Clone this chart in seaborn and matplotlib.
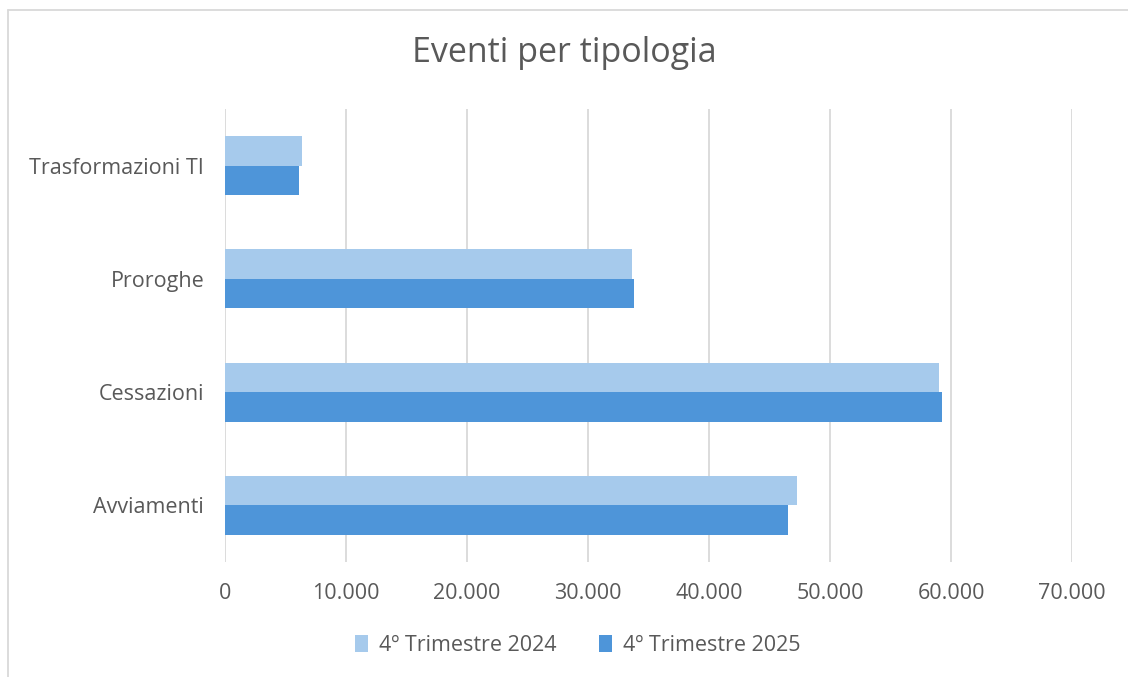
import pandas as pd
import numpy as np
import matplotlib.pyplot as plt
import seaborn as sns
from matplotlib.ticker import FuncFormatter, MultipleLocator
from matplotlib.lines import Line2D
from matplotlib.patches import Patch

# data
categorie = ['Trasformazioni TI', 'Proroghe', 'Cessazioni', 'Avviamenti']
trim_2024 = [6400, 33600, 59000, 47250]
trim_2025 = [6100, 33800, 59250, 46500]
periodi = ['4º Trimestre 2024', '4º Trimestre 2025']
colori = ['#A6CAEC', '#4E95D9']

df = pd.DataFrame({
    'categoria': categorie * 2,
    'valore': trim_2024 + trim_2025,
    'periodo': [periodi[0]] * len(categorie) + [periodi[1]] * len(categorie),
})

sns.set_style('white')
plt.rcParams['font.family'] = ['Open Sans', 'DejaVu Sans']
testo = '#595959'

fig = plt.figure(figsize=(11.28, 6.77), dpi=100)
ax = fig.add_axes([0.1995, 0.1699, 0.7509, 0.6691])

sns.barplot(data=df, y='categoria', x='valore', hue='periodo', order=categorie,
            hue_order=periodi, palette=colori, orient='h', width=0.52,
            saturation=1, ax=ax, legend=False, edgecolor='none')

ax.set_xlim(0, 70000)
ax.set_ylim(3.5, -0.5)
ax.xaxis.set_major_locator(MultipleLocator(10000))
ax.xaxis.set_major_formatter(FuncFormatter(lambda v, p: f'{v:,.0f}'.replace(',', '.')))
ax.grid(axis='x', color='#D9D9D9', linewidth=1.3)
ax.grid(axis='y', visible=False)
ax.set_axisbelow(True)
for s in ax.spines.values():
    s.set_visible(False)
ax.set_xlabel('')
ax.set_ylabel('')
ax.tick_params(axis='both', length=0, labelsize=15.5, labelcolor=testo)
ax.tick_params(axis='x', pad=15)
ax.tick_params(axis='y', pad=15)

fig.text(0.5, 0.922, 'Eventi per tipologia', ha='center', va='center',
         fontsize=24.5, color=testo)

handles = [Patch(facecolor=c, edgecolor='none') for c in colori]
fig.legend(handles, periodi, loc='center', bbox_to_anchor=(0.512, 0.047), ncol=2,
           frameon=False, fontsize=15.5, labelcolor=testo, handlelength=0.6,
           handleheight=0.9, handletextpad=0.5, columnspacing=2.0)

# chart border
fig.add_artist(Line2D([8 / 1128, 1], [1 - 10 / 677, 1 - 10 / 677], color='#D9D9D9', linewidth=1.3))
fig.add_artist(Line2D([8 / 1128, 8 / 1128], [0, 1 - 10 / 677], color='#D9D9D9', linewidth=1.3))

fig.savefig('out.png', dpi=100)
